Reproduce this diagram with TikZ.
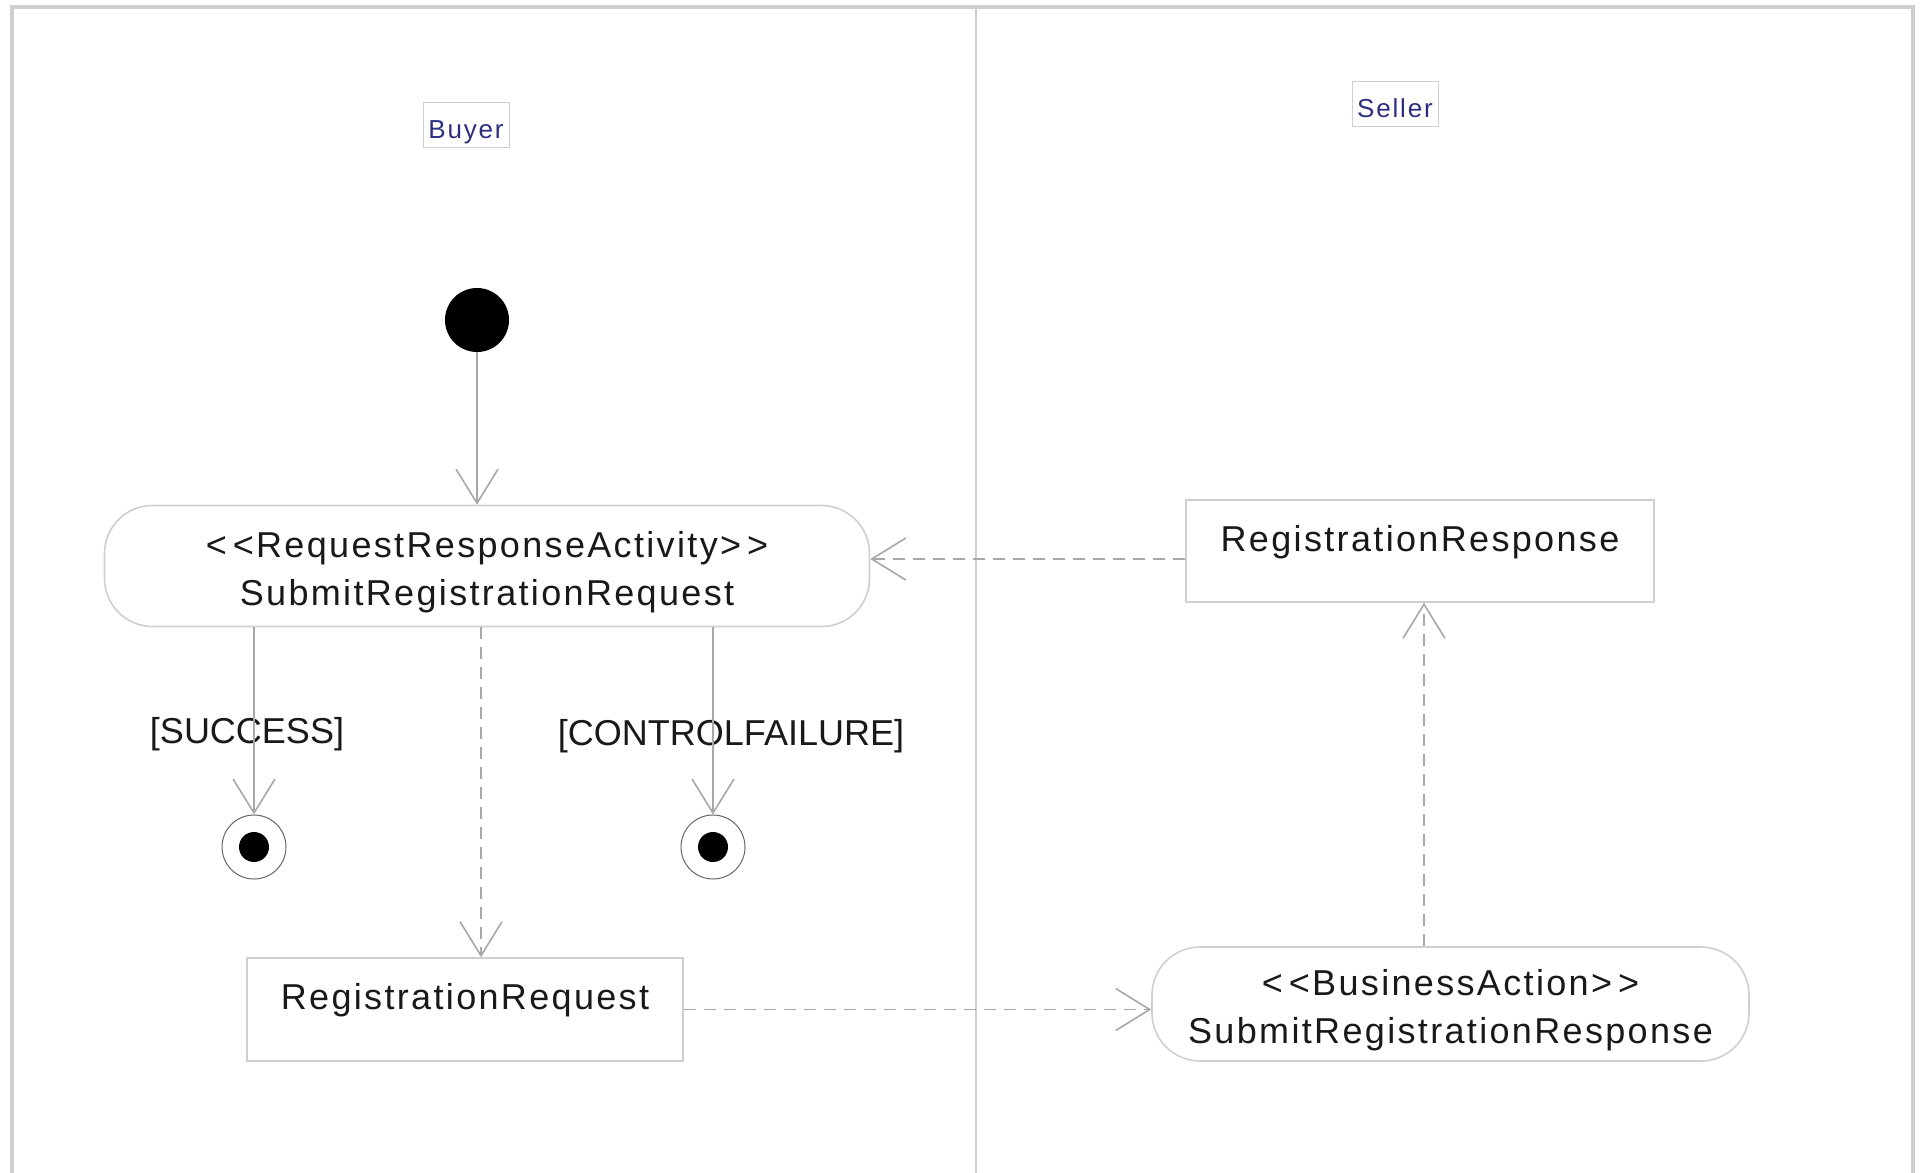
\documentclass[tikz,border=0pt]{standalone}
\usepackage{fontspec}
\setmainfont{Liberation Sans}
\usetikzlibrary{arrows.meta}
\definecolor{linegray}{HTML}{A8A8A8}
\definecolor{framegray}{HTML}{CFCFCF}
\definecolor{lanecolor}{HTML}{2E2E80}
\begin{document}
\begin{tikzpicture}[x=0.5pt, y=-0.5pt,
  every node/.style={font=\fontsize{18}{24}\selectfont\addfontfeatures{LetterSpace=6.5}, text=black!90},
  activity/.style={draw=framegray, line width=0.8pt, rounded corners=24pt, align=center, inner sep=0pt, text height=43pt},
  objbox/.style={draw=framegray, line width=0.8pt, inner sep=0pt, text height=12pt, text depth=12pt},
  guard/.style={font=\fontsize{18}{24}\selectfont},
  lanelabel/.style={draw=framegray, line width=0.5pt, text=lanecolor, font=\fontsize{13}{15}\selectfont\addfontfeatures{LetterSpace=7}, minimum width=43pt, minimum height=22.5pt, inner sep=0pt, text height=17pt, text depth=4pt},
  final/.style={circle, draw=black!60, line width=0.5pt, minimum size=32pt, inner sep=0pt, path picture={\fill[black] (path picture bounding box.center) circle (7.5pt);}},
  flow/.style={draw=linegray, line width=0.8pt, -{Straight Barb[length=17pt,width=21pt]}},
  objflow/.style={flow, dash pattern=on 6pt off 4pt}]
\useasboundingbox (0,0) rectangle (1923,1173);

% 泳道边框
\draw[framegray, line width=1.8pt] (12,1173) -- (12,7) -- (1913,7) -- (1913,1173);
\draw[framegray, line width=1.2pt] (976,7) -- (976,1173);

% 泳道名称
\node[lanelabel] (buyer) at (466,125) {Buyer};
\node[lanelabel] (seller) at (1395,104) {Seller};

% 初始节点与活动
\node[circle, fill=black, minimum size=32pt, inner sep=0pt] (start) at (477,320) {};
\node[activity, minimum width=382.5pt, minimum height=60.5pt] (submitreq) at (487,566) {<\,<RequestResponseActivity>\,>\\SubmitRegistrationRequest};
\node[activity, minimum width=298.5pt, minimum height=57pt] (submitresp) at (1450.5,1004) {<\,<BusinessAction>\,>\\SubmitRegistrationResponse};

% 业务文档
\node[objbox, minimum width=218pt, minimum height=51.5pt] (regreq) at (465,1009.5) {RegistrationRequest};
\node[objbox, minimum width=234pt, minimum height=51pt] (regresp) at (1420,551) {RegistrationResponse};

% 终止节点与守卫条件
\node[final] (endok) at (254,847) {};
\node[final] (endfail) at (713,847) {};
\node[guard] (success) at (247,734) {[SUCCESS]};
\node[guard] (ctrlfail) at (731,736) {[CONTROLFAILURE]};

% 控制流
\draw[flow] (start) -- (start |- submitreq.north);
\foreach \e in {endok, endfail} {
    \draw[flow] (submitreq.south -| \e) -- (\e);
}

% 对象流
\draw[objflow] ([xshift=-3pt]submitreq.south) -- ([xshift=-3pt]submitreq.south |- regreq.north);
\draw[objflow] (regreq.east) -- (regreq.east -| submitresp.west);
\draw[objflow] ([xshift=2pt]regresp.south |- submitresp.north) -- ([xshift=2pt]regresp.south);
\draw[objflow] ([yshift=-4pt]regresp.west) -- ([yshift=-4pt]regresp.west -| submitreq.east);

\end{tikzpicture}
\end{document}
